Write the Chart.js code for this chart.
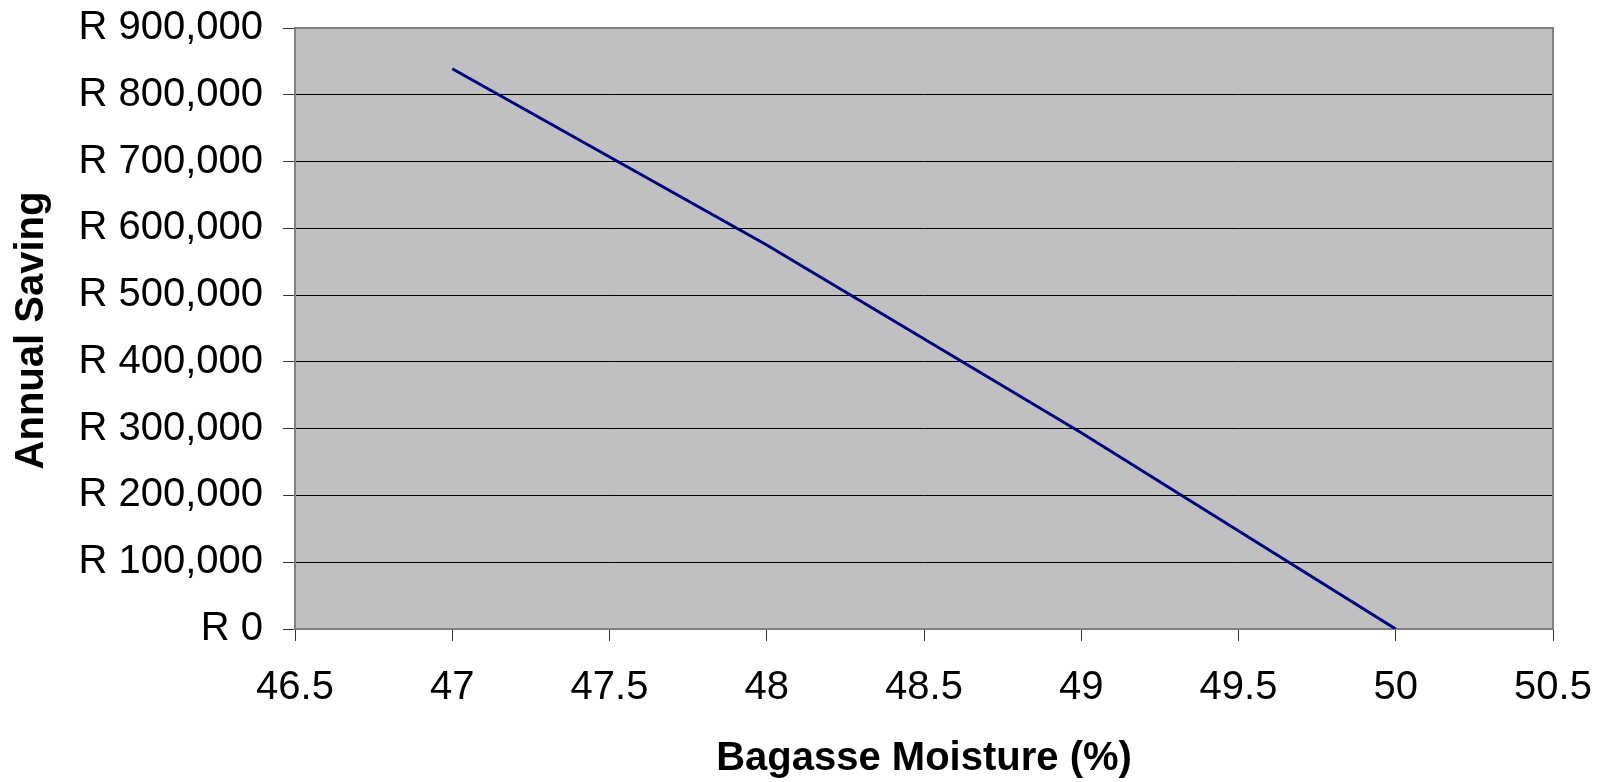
<!DOCTYPE html>
<html>
<head>
<meta charset="utf-8">
<script src="https://cdn.jsdelivr.net/npm/chart.js@4.4.1/dist/chart.umd.min.js"></script>
<style>
  html, body { margin: 0; padding: 0; background: #ffffff; }
  #wrap { width: 1604px; height: 782px; }
</style>
</head>
<body>
<div id="wrap"><canvas id="savingChart" width="1604" height="782"></canvas></div>
<script>
const moisture = [47, 48, 49, 50];
const annualSaving = [839000, 575000, 294000, 0];
const xTicks = [46.5, 47, 47.5, 48, 48.5, 49, 49.5, 50, 50.5];
const yTicks = [0, 100000, 200000, 300000, 400000, 500000, 600000, 700000, 800000, 900000];
const xTitle = 'Bagasse Moisture (%)';
const yTitle = 'Annual Saving';

const FONT = '"Liberation Sans", Arial, sans-serif';
const AXIS_GREY = '#808080';

// grey plot area with a grey frame, like the old spreadsheet charts
const plotAreaPlugin = {
  id: 'plotArea',
  beforeDraw(chart) {
    const { ctx, chartArea } = chart;
    ctx.save();
    ctx.fillStyle = '#c0c0c0';
    ctx.fillRect(chartArea.left, chartArea.top, chartArea.right - chartArea.left, chartArea.bottom - chartArea.top);
    ctx.restore();
  },
  beforeDatasetsDraw(chart) {
    const { ctx, chartArea } = chart;
    ctx.save();
    ctx.strokeStyle = AXIS_GREY;
    ctx.lineWidth = 2;
    ctx.strokeRect(chartArea.left, chartArea.top, chartArea.right - chartArea.left, chartArea.bottom - chartArea.top);
    ctx.restore();
  }
};

// axis titles, baseline placed from the outer edge of each scale box
const axisTitlePlugin = {
  id: 'axisTitles',
  afterDraw(chart) {
    const { ctx, chartArea, scales } = chart;
    ctx.save();
    ctx.fillStyle = '#000';
    ctx.font = `bold 40px ${FONT}`;
    ctx.textAlign = 'center';
    ctx.textBaseline = 'alphabetic';
    ctx.fillText(xTitle, (chartArea.left + chartArea.right) / 2, scales.x.bottom - 12);
    ctx.translate(scales.y.left + 43, (chartArea.top + chartArea.bottom) / 2 + 2);
    ctx.rotate(-Math.PI / 2);
    ctx.fillText(yTitle, 0, 0);
    ctx.restore();
  }
};

const fixedTicks = (values) => (scale) => {
  scale.ticks = values.map((value) => ({ value }));
};

new Chart(document.getElementById('savingChart'), {
  type: 'line',
  plugins: [plotAreaPlugin, axisTitlePlugin],
  data: {
    datasets: [{
      data: moisture.map((x, i) => ({ x, y: annualSaving[i] })),
      borderColor: '#000080',
      borderWidth: 3,
      pointRadius: 0,
      tension: 0,
      fill: false
    }]
  },
  options: {
    responsive: false,
    animation: false,
    layout: { padding: { top: 28, right: 51, bottom: 0, left: 0 } },
    plugins: { legend: { display: false }, tooltip: { enabled: false } },
    scales: {
      x: {
        type: 'linear',
        min: 46.5,
        max: 50.5,
        afterBuildTicks: fixedTicks(xTicks),
        afterFit(scale) {
          scale.height = 153;
          scale.paddingLeft = 0;
          scale.paddingRight = 0;
        },
        grid: { drawOnChartArea: false, drawTicks: true, tickLength: 12, tickColor: '#333333', lineWidth: 1 },
        border: { display: true, color: AXIS_GREY, width: 2 },
        ticks: {
          color: '#000',
          padding: 23,
          maxRotation: 0,
          font: { family: FONT, size: 40 },
          callback: (v) => String(v)
        }
      },
      y: {
        min: 0,
        max: 900000,
        afterBuildTicks: fixedTicks(yTicks),
        afterFit(scale) {
          scale.width = 295;
          scale.paddingTop = 0;
          scale.paddingBottom = 0;
        },
        grid: { color: '#000000', lineWidth: 1, tickLength: 12, tickColor: '#333333' },
        border: { display: true, color: AXIS_GREY, width: 2 },
        ticks: {
          color: '#000',
          padding: 20,
          font: { family: FONT, size: 40 },
          callback: (v) => 'R ' + Number(v).toLocaleString('en-US')
        }
      }
    }
  }
});
</script>
</body>
</html>
